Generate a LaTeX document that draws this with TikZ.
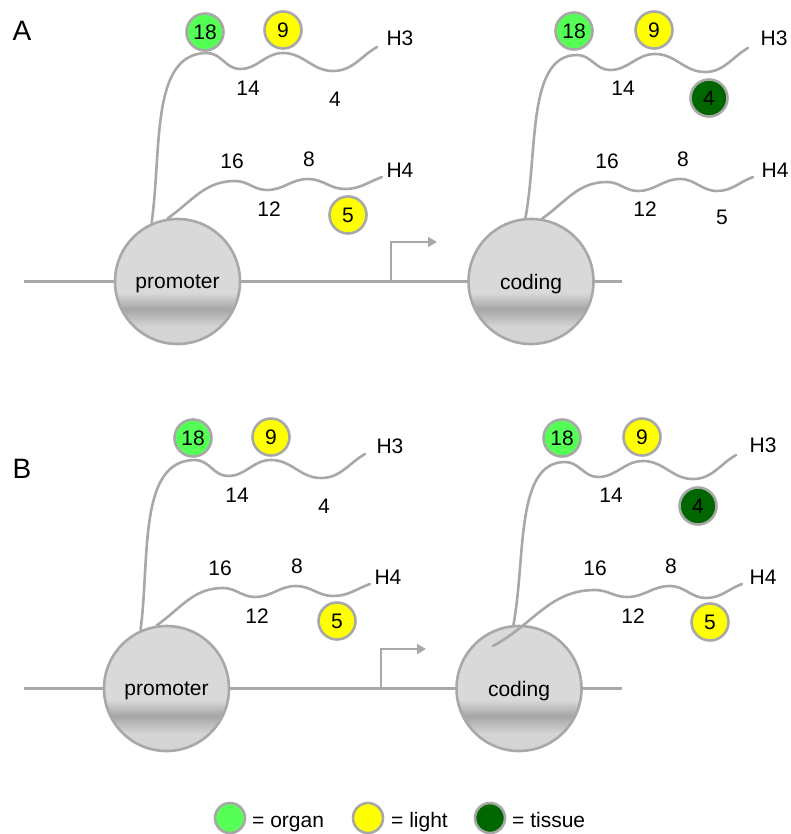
\documentclass[tikz,border=0pt]{standalone}
\usepackage{fontspec}
\setmainfont{Liberation Sans}
\usetikzlibrary{arrows.meta}
\definecolor{linegray}{RGB}{168,168,168}
\definecolor{nucTop}{RGB}{217,217,217}
\definecolor{nucBand}{RGB}{166,166,166}
\definecolor{nucBot}{RGB}{212,212,212}
\definecolor{organC}{RGB}{85,255,85}
\definecolor{lightC}{RGB}{255,255,0}
\definecolor{tissueC}{RGB}{0,102,0}
\pgfdeclareverticalshading{chrom}{100bp}{color(0bp)=(nucBot); color(25bp)=(nucBot); color(32bp)=(nucBot); color(39bp)=(nucBand); color(45.5bp)=(nucTop); color(75bp)=(nucTop); color(100bp)=(nucTop)}
\tikzset{
  tail/.style={draw=linegray, line width=2.6pt, line cap=round},
  dna/.style={draw=linegray, line width=2.6pt},
  nuc/.style={circle, draw=linegray, line width=2.6pt, minimum size=125pt, inner sep=0pt, shade, shading=chrom, text depth=0pt},
  dotbase/.style={circle, draw=linegray, line width=2.6pt, minimum size=37pt, inner sep=0pt},
  organdot/.style={dotbase, fill=organC},
  lightdot/.style={dotbase, fill=lightC},
  tissuedot/.style={dotbase, fill=tissueC},
  legdot/.style={circle, draw=linegray, line width=2.6pt, minimum size=30pt, inner sep=0pt},
  lbl/.style={inner sep=0pt},
  panel/.style={inner sep=0pt, font=\fontsize{28}{32}\selectfont},
  tss/.style={dna, -{Triangle[length=9pt,width=10pt]}}
}
\begin{document}
\begin{tikzpicture}[x=1pt, y=1pt, font=\fontsize{21}{25}\selectfont]
\useasboundingbox (0,0) rectangle (790,-834);

% ---------------- Panel A ----------------
\node[panel] (labA) at (22,-31) {A};
\node[nuc] (promA) at (177.5,-281.5) {promoter};
\node[nuc] (codA) at (531,-281.5) {coding};
\coordinate (dnaLA) at (24,-281.5);
\coordinate (dnaRA) at (622,-281.5);
\draw[dna] (dnaLA) -- (promA) -- (codA) -- (dnaRA);
\coordinate (tssA) at (391,-281.5);
\coordinate (tipA) at (437,-242);
\draw[tss] (tssA) |- (tipA);

\coordinate (pH3endA) at (377,-47);
\coordinate (pH4endA) at (382,-177);
\draw[tail] (promA.114) .. controls (162,-150) and (150,-53) .. (207,-53)
  to[out=0,in=180] (240,-69) to[out=0,in=180] (283,-53)
  to[out=0,in=180] (333,-71) to[out=0,in=210] (pH3endA);
\draw[tail] (promA.99) to[out=35,in=180] (235,-181)
  to[out=0,in=180] (267,-190) to[out=0,in=180] (308,-179)
  to[out=0,in=180] (345,-189) to[out=0,in=200] (pH4endA);

\coordinate (cH3endA) at (748,-48);
\coordinate (cH4endA) at (753,-177);
\draw[tail] (codA.95) .. controls (538,-150) and (527,-55) .. (577,-55)
  to[out=0,in=180] (610,-70) to[out=0,in=180] (655,-54)
  to[out=0,in=180] (705,-72) to[out=0,in=210] (cH3endA);
\draw[tail] (codA.80) to[out=35,in=180] (607,-182)
  to[out=0,in=180] (638,-191) to[out=0,in=180] (680,-179)
  to[out=0,in=180] (717,-191) to[out=0,in=200] (cH4endA);

\node[organdot] (pA18) at (205,-32) {18};
\node[lightdot] (pA9) at (283,-30) {9};
\node[lightdot] (pA5) at (348,-215) {5};
\node[lbl] (pA14) at (248,-88) {14};
\node[lbl] (pA4) at (335,-99) {4};
\node[lbl] (pA16) at (232,-161) {16};
\node[lbl] (pA8) at (309,-159) {8};
\node[lbl] (pA12) at (269,-209) {12};
\node[lbl] (pAH3) at (400,-38) {H3};
\node[lbl] (pAH4) at (400,-170) {H4};

\node[organdot] (cA18) at (574,-31) {18};
\node[lightdot] (cA9) at (654,-30) {9};
\node[tissuedot] (cA4) at (709,-98) {4};
\node[lbl] (cA14) at (623,-88) {14};
\node[lbl] (cA16) at (607,-161) {16};
\node[lbl] (cA8) at (683,-159) {8};
\node[lbl] (cA12) at (645,-209) {12};
\node[lbl] (cA5) at (722,-217) {5};
\node[lbl] (cAH3) at (774,-38) {H3};
\node[lbl] (cAH4) at (775,-170) {H4};

% ---------------- Panel B ----------------
\node[panel] (labB) at (22,-469) {B};
\begin{scope}[shift={(-12,-407)}]
\node[nuc] (promB) at (178.5,-281.5) {promoter};
\node[nuc] (codB) at (531,-281.5) {coding};
\coordinate (dnaLB) at (36,-281.5);
\coordinate (dnaRB) at (634,-281.5);
\draw[dna] (dnaLB) -- (promB) -- (codB) -- (dnaRB);
\coordinate (tssB) at (393,-281.5);
\coordinate (tipB) at (438,-242);
\draw[tss] (tssB) |- (tipB);

\coordinate (pH3endB) at (377,-47);
\coordinate (pH4endB) at (382,-177);
\draw[tail] (promB.114) .. controls (162,-150) and (150,-53) .. (207,-53)
  to[out=0,in=180] (240,-69) to[out=0,in=180] (283,-53)
  to[out=0,in=180] (333,-71) to[out=0,in=210] (pH3endB);
\draw[tail] (promB.99) to[out=35,in=180] (235,-181)
  to[out=0,in=180] (267,-190) to[out=0,in=180] (308,-179)
  to[out=0,in=180] (345,-189) to[out=0,in=200] (pH4endB);

\coordinate (cH3endB) at (748,-48);
\coordinate (cH4endB) at (754,-177);
\coordinate (cH4startB) at (505,-239);
\draw[tail] (codB.95) .. controls (538,-150) and (527,-55) .. (577,-55)
  to[out=0,in=180] (610,-70) to[out=0,in=180] (655,-54)
  to[out=0,in=180] (705,-72) to[out=0,in=210] (cH3endB);
\draw[tail] (cH4startB) to[out=28,in=180] (607,-183)
  to[out=0,in=180] (639,-190) to[out=0,in=180] (682,-179)
  to[out=0,in=180] (718,-191) to[out=0,in=200] (cH4endB);

\node[organdot] (pB18) at (205,-31) {18};
\node[lightdot] (pB9) at (283,-30) {9};
\node[lightdot] (pB5) at (349,-214) {5};
\node[lbl] (pB14) at (249,-88) {14};
\node[lbl] (pB4) at (336,-99) {4};
\node[lbl] (pB16) at (232,-161) {16};
\node[lbl] (pB8) at (309,-159) {8};
\node[lbl] (pB12) at (269,-209) {12};
\node[lbl] (pBH3) at (402,-39) {H3};
\node[lbl] (pBH4) at (400,-170) {H4};

\node[organdot] (cB18) at (574,-31) {18};
\node[lightdot] (cB9) at (654,-30) {9};
\node[tissuedot] (cB4) at (710,-99) {4};
\node[lbl] (cB14) at (623,-88) {14};
\node[lbl] (cB16) at (607,-161) {16};
\node[lbl] (cB8) at (683,-159) {8};
\node[lbl] (cB12) at (645,-209) {12};
\node[lightdot] (cB5) at (722,-215) {5};
\node[lbl] (cBH3) at (775,-38) {H3};
\node[lbl] (cBH4) at (775,-170) {H4};
\end{scope}

% ---------------- Legend ----------------
\node[legdot, fill=organC] (legO) at (230,-818) {};
\node[lbl, anchor=base west] (legOt) at (252,-827) {= organ};
\node[legdot, fill=lightC] (legL) at (368,-818) {};
\node[lbl, anchor=base west] (legLt) at (391,-827) {= light};
\node[legdot, fill=tissueC] (legT) at (490,-818) {};
\node[lbl, anchor=base west] (legTt) at (512,-827) {= tissue};
\end{tikzpicture}
\end{document}
